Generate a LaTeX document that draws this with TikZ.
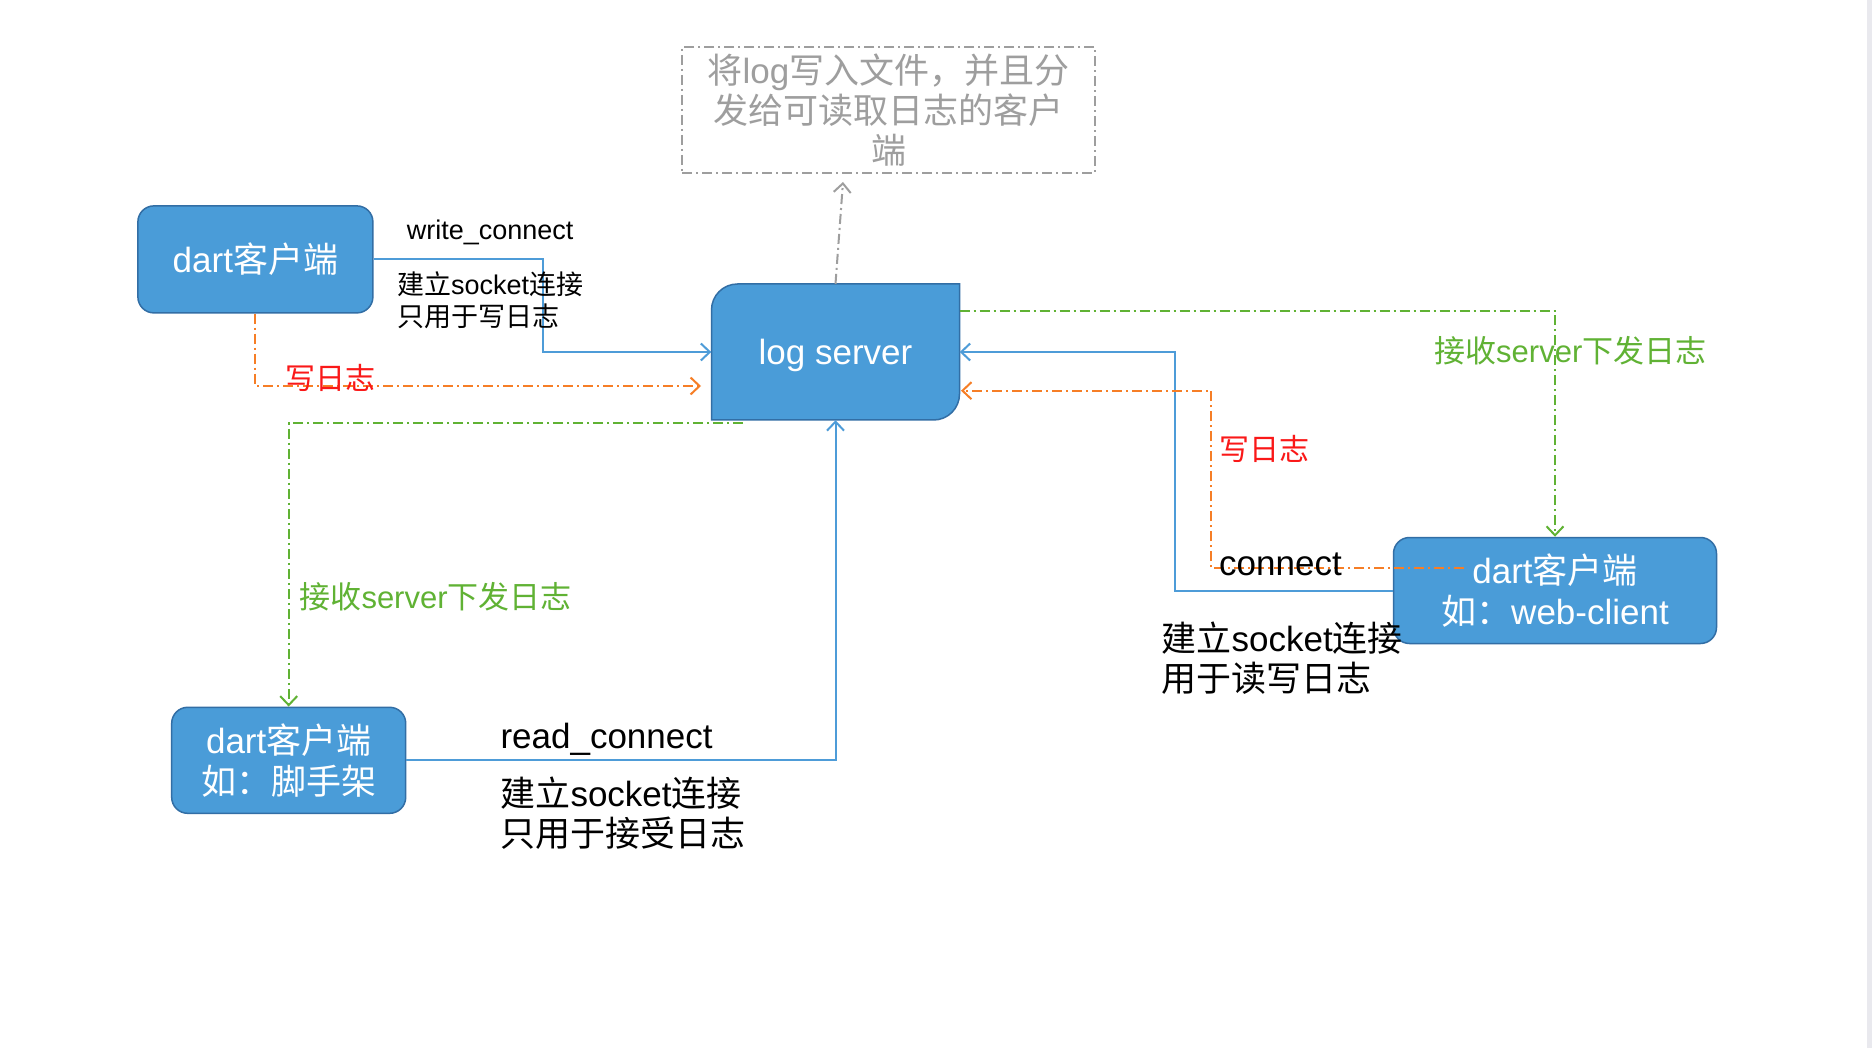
\documentclass[tikz,border=0pt]{standalone}
\usepackage{fontspec}
\setmainfont{Liberation Sans}
\newfontfamily\cjk{Noto Sans CJK SC}
\usetikzlibrary{arrows.meta}
\definecolor{boxfill}{RGB}{74,156,216}
\definecolor{boxline}{RGB}{50,110,165}
\definecolor{linkblue}{RGB}{78,156,216}
\definecolor{logorange}{RGB}{246,126,38}
\definecolor{loggreen}{RGB}{96,178,52}
\definecolor{logred}{RGB}{250,24,24}
\definecolor{notegray}{RGB}{158,158,158}
\definecolor{edgestrip}{RGB}{233,233,238}
\begin{document}
\begin{tikzpicture}[x=1pt,y=-1pt,
  client/.style={draw=boxline, fill=boxfill, line width=1.5pt, rounded corners=16pt,
    text=white, align=center, inner sep=0pt, font=\fontsize{35}{41}\selectfont},
  arr/.style={-{Straight Barb[length=9pt,width=17pt]}},
  dashdot/.style={dash pattern=on 10pt off 4pt on 2pt off 4pt},
  bluelink/.style={draw=linkblue, line width=2pt, arr},
  orangelink/.style={draw=logorange, line width=2pt, dashdot, arr},
  greenlink/.style={draw=loggreen, line width=2pt, dashdot, arr},
  graylink/.style={draw=notegray, line width=2pt, dashdot, arr},
  lbl/.style={inner sep=0pt, align=left},
  redlbl/.style={lbl, text=logred, font=\fontsize{30}{36}\selectfont\cjk},
  greenlbl/.style={lbl, text=loggreen, font=\fontsize{31}{36}\selectfont},
  blacklbl/.style={lbl, text=black, font=\fontsize{35}{40}\selectfont},
  smalllbl/.style={lbl, text=black, font=\fontsize{27}{32}\selectfont},
]
\useasboundingbox (0,0) rectangle (1872,1048);
\fill[white] (0,0) rectangle (1872,1048);
\fill[edgestrip] (1867,0) rectangle (1872,1048);

% log server shape
\filldraw[draw=boxline, fill=boxfill, line width=1.5pt]
  (711.5,420) -- (711.5,310) .. controls (711.5,295.6) and (723.1,284) .. (737.5,284)
  -- (959.5,284) -- (959.5,394) .. controls (959.5,408.4) and (947.9,420) .. (933.5,420) -- cycle;
\node[inner sep=0pt, minimum width=248pt, minimum height=136pt] (ls) at (835.5,352) {};
\node[inner sep=0pt, text=white, font=\fontsize{35}{41}\selectfont] (lstext) at (835.5,355.5) {log server};

% clients
\node[client, minimum width=235pt, minimum height=107pt] (tl) at (255.4,259.4) {dart{\cjk 客户端}};
\node[client, minimum width=234pt, minimum height=106pt] (bl) at (288.7,760.3) {dart{\cjk 客户端}\\{\cjk 如：脚手架}};
\node[client, minimum width=323pt, minimum height=106pt] (wc) at (1555,590.5) {dart{\cjk 客户端}\\{\cjk 如：}web-client};

% note box
\node[draw=notegray, line width=1.5pt, dashdot, minimum width=413pt, minimum height=126pt,
  inner sep=0pt, align=center, text=notegray, font=\fontsize{35}{40}\selectfont] (note) at (888.5,110)
  {{\cjk 将}log{\cjk 写入文件，并且分}\\{\cjk 发给可读取日志的客户}\\{\cjk 端}};

% free ends
\coordinate (gt) at (843,182);
\coordinate (o1) at (701,386);
\coordinate (o2s) at (1464,568.3);
\coordinate (o2e) at (961,390.7);
\coordinate (g1) at (959.5,310.7);
\coordinate (g2) at (743,423.3);

% connectors
\draw[graylink] (ls.north) -- (gt);
\draw[bluelink] (tl.east) -- ++(169,0) |- (ls.west);
\draw[bluelink] (bl.east) -| (ls.south);
\draw[bluelink] (wc.west) -- ++(-217.4,0) |- (ls.east);
\draw[orangelink] (tl.south) |- (o1);
\draw[orangelink] (o2s) -- ++(-252.8,0) |- (o2e);
\draw[greenlink] (g1) -| (wc.north);
\draw[greenlink] (g2) -| (bl.north);

% labels
\node[smalllbl, anchor=base west] (wlab) at (406.7,240) {write\_connect};
\node[smalllbl, anchor=west] (wdesc) at (396.8,300.5) {{\cjk 建立}socket{\cjk 连接}\\{\cjk 只用于写日志}};
\node[redlbl, anchor=west] (r1) at (285,377.7) {写日志};
\node[greenlbl, anchor=west] (g1lab) at (299.3,596.7) {{\cjk 接收}server{\cjk 下发日志}};
\node[blacklbl, anchor=base west] (rlab) at (500.3,748) {read\_connect};
\node[blacklbl, anchor=west] (rdesc) at (500.3,813.3) {{\cjk 建立}socket{\cjk 连接}\\{\cjk 只用于接受日志}};
\node[greenlbl, anchor=west] (g2lab) at (1434,350.7) {{\cjk 接收}server{\cjk 下发日志}};
\node[redlbl, anchor=west] (r2) at (1219.7,449.3) {写日志};
\node[blacklbl, anchor=base west] (clab) at (1219,575) {connect};
\node[blacklbl, anchor=west] (cdesc) at (1161.5,658.3) {{\cjk 建立}socket{\cjk 连接}\\{\cjk 用于读写日志}};
\end{tikzpicture}
\end{document}
